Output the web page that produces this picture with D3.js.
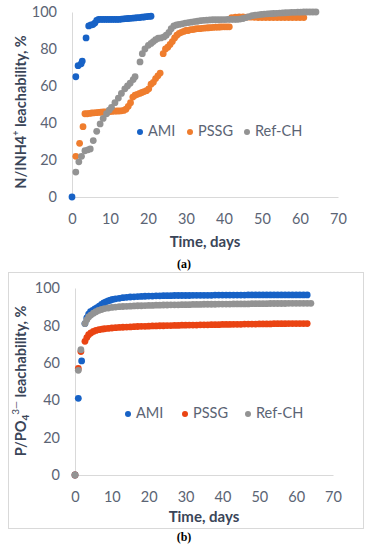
<!DOCTYPE html>
<html>
<head>
<meta charset="utf-8">
<script src="https://cdn.jsdelivr.net/npm/d3@7"></script>
<style>
  body { margin: 0; background: #fff; }
  svg { display: block; font-family: Lato, "Open Sans", sans-serif; }
</style>
</head>
<body>
<div id="chart"></div>
<script>
/* Leachability over time: (a) N/NH4+ and (b) P/PO4 3- */

const seriesNames = ['AMI', 'PSSG', 'Ref-CH'];
const xTicks = [0, 10, 20, 30, 40, 50, 60, 70];
const yTicks = [0, 20, 40, 60, 80, 100];

// panel (a) — [day, %]
const amiA = [[0,0],[1,65],[1.6,71],[2.4,72],[2.7,73.5],[3.7,86],[4.4,92.5],[5,93],[5.5,93.2],[6,94],[6.5,95.5],[7,96],[7.6,96],[8.2,96],[8.8,96],[9.4,96],[10,96],[10.6,96],[11.2,96],[11.8,96],[12.4,96],[13,96.2],[13.6,96.3],[14.2,96.4],[14.8,96.5],[15.4,96.6],[16,96.7],[16.6,96.8],[17.2,97],[17.8,97],[18.4,97.2],[19,97.3],[19.6,97.5],[20.2,97.6],[20.8,97.7]];
const pssgA = [[1,22],[2,29],[2.9,38],[3.4,45],[4,45],[4.6,45.2],[5.2,45.4],[5.8,45.5],[6.4,45.6],[7,45.7],[7.6,45.8],[8.2,46],[8.8,46],[9.4,46],[10,46.2],[10.6,46.3],[11.2,46.4],[11.8,46.5],[12.4,46.5],[13,46.6],[13.6,46.8],[14.2,47.5],[14.8,49],[15.4,51],[16,54],[16.6,55],[17.2,55.5],[17.8,56],[18.4,56.5],[19,57],[19.6,57.5],[20.2,58.5],[20.8,61],[21.4,62],[22,64],[22.6,65.5],[23.2,67],[24,77.5],[24.6,80],[25.2,81],[25.8,82.5],[26.4,84],[27,86],[27.6,87.5],[28.2,88.5],[28.8,89],[29.4,89.5],[30,90],[30.6,90],[31.2,90.5],[31.8,90.5],[32.4,90.8],[33,91],[33.6,91],[34.2,91.2],[34.8,91.3],[35.4,91.4],[36,91.5],[36.6,91.6],[37.2,91.7],[37.8,91.8],[38.4,91.8],[39,91.9],[39.6,92],[40.2,92],[40.8,92],[41.4,92],[42,97],[43,97.2],[44,97.3],[45,97.3],[46,97.2],[47,97.2],[48,97.1],[49,97],[50,97],[51,97],[52,97],[53,97],[54,97],[55,97],[56,97],[57,97],[58,97],[59,97],[60,97],[61,97]];
const refA = [[1,13.5],[1.8,19],[2.5,22],[3.4,25],[4.2,25.5],[4.8,26],[5.6,30.5],[6.5,35.5],[7.4,39.5],[8.2,42.5],[9.1,45],[9.8,47],[10.4,48.5],[11.3,51],[12.2,53.5],[13,56],[13.9,58.5],[14.6,60],[15.3,61.5],[16.1,63.5],[16.6,65],[17.9,73],[18.5,77.5],[19.2,80],[20.1,82],[20.8,83],[21.4,84],[22,85],[22.7,85.8],[23.4,86],[24.2,86.5],[24.8,87.5],[25.5,89],[26.1,91],[26.8,92.5],[27.5,93],[28.2,93.3],[29,93.6],[29.8,94],[30.6,94.3],[31.4,94.5],[32.2,94.8],[33,95],[33.8,95.3],[34.6,95.5],[35.4,95.6],[36.2,95.7],[37,95.8],[37.8,95.8],[38.6,95.8],[39.4,95.9],[40.2,95.9],[41,96],[41.8,96],[42.6,96],[43.4,96],[44.2,96.2],[45,96.5],[45.8,97],[46.6,97.5],[47.4,98],[48.2,98.3],[49,98.5],[49.8,98.7],[50.6,98.9],[51.4,99],[52.2,99.1],[53,99.2],[53.8,99.3],[54.6,99.4],[55.4,99.5],[56.2,99.6],[57,99.7],[57.8,99.8],[58.6,99.8],[59.4,99.9],[60.2,99.9],[61,100],[61.8,100],[62.6,100],[63.4,100],[64.2,100]];

// panel (b) — [day, %]
const amiB = [[0,0],[0.9,41],[1.8,61],[2.7,81],[3.2,84],[3.7,86],[4.2,87.3],[4.8,88],[5.4,88.8],[6,89.5],[6.6,90.3],[7.2,91.2],[7.8,92],[8.4,92.6],[9,93.1],[9.6,93.5],[10.2,93.9],[11,94.2],[12,94.5],[13,94.8],[14,95],[15,95.2],[16,95.3],[17,95.4],[18,95.5],[19,95.6],[20,95.7],[21,95.7],[22,95.8],[23,95.8],[24,95.9],[25,95.9],[26,95.9],[27,96],[28,96],[29,96],[30,96],[31,96],[32,96.1],[33,96.1],[34,96.1],[35,96.1],[36,96.1],[37,96.1],[38,96.2],[39,96.2],[40,96.2],[41,96.2],[42,96.2],[43,96.2],[44,96.2],[45,96.2],[46,96.2],[47,96.3],[48,96.3],[49,96.3],[50,96.3],[51,96.3],[52,96.3],[53,96.3],[54,96.3],[55,96.3],[56,96.3],[57,96.3],[58,96.3],[59,96.3],[60,96.3],[61,96.3],[62,96.3],[63,96.3]];
const pssgB = [[0,0],[0.9,57],[1.6,66],[2.7,71.5],[3.2,73.5],[3.7,75],[4.3,76],[5,76.8],[5.7,77.3],[6.5,77.7],[7.3,78],[8,78.2],[9,78.4],[10,78.6],[11,78.8],[12,78.9],[13,79],[14,79.1],[15,79.2],[16,79.3],[17,79.4],[18,79.5],[19,79.5],[20,79.6],[21,79.7],[22,79.7],[23,79.8],[24,79.8],[25,79.9],[26,79.9],[27,80],[28,80],[29,80.1],[30,80.1],[31,80.2],[32,80.2],[33,80.2],[34,80.3],[35,80.3],[36,80.3],[37,80.4],[38,80.4],[39,80.4],[40,80.5],[41,80.5],[42,80.5],[43,80.6],[44,80.6],[45,80.6],[46,80.7],[47,80.7],[48,80.7],[49,80.7],[50,80.8],[51,80.8],[52,80.8],[53,80.8],[54,80.9],[55,80.9],[56,80.9],[57,80.9],[58,81],[59,81],[60,81],[61,81],[62,81],[63,81]];
const refB = [[0,0],[0.9,56],[1.6,67],[2.7,81],[3.2,83],[3.7,84.5],[4.3,85.5],[5,86.5],[5.7,87.3],[6.4,88],[7.2,88.5],[8,89],[9,89.3],[10,89.6],[11,89.8],[12,90],[13,90.1],[14,90.2],[15,90.3],[16,90.4],[17,90.5],[18,90.5],[19,90.6],[20,90.7],[21,90.7],[22,90.8],[23,90.8],[24,90.9],[25,90.9],[26,91],[27,91],[28,91],[29,91.1],[30,91.1],[31,91.1],[32,91.2],[33,91.2],[34,91.2],[35,91.3],[36,91.3],[37,91.3],[38,91.3],[39,91.4],[40,91.4],[41,91.4],[42,91.4],[43,91.5],[44,91.5],[45,91.5],[46,91.5],[47,91.5],[48,91.6],[49,91.6],[50,91.6],[51,91.6],[52,91.6],[53,91.7],[54,91.7],[55,91.7],[56,91.7],[57,91.7],[58,91.8],[59,91.8],[60,91.8],[61,91.8],[62,91.8],[63,91.8],[64,91.8]];

const colorsA = ['#1762c6', '#ef7d2e', '#939393'];
const colorsB = ['#1762c6', '#ea4413', '#939393'];

const W = 368, H = 550;
const tickColor = '#5b6474';
const titleColor = '#3a4558';
const axisColor = '#d9d9d9';

const svg = d3.select('#chart').append('svg')
    .attr('width', W)
    .attr('height', H);

function drawPanel(opts) {
    const { x0, x1, y0, y1, series, colors, legendY, legendX, yTitleY, titleY, tickY, yTitle } = opts;

    const x = d3.scaleLinear().domain([0, 70]).range([x0, x1]);
    const y = d3.scaleLinear().domain([0, 100]).range([y0, y1]);

    const g = svg.append('g');

    // Y axis
    const ya = g.append('g')
        .attr('transform', `translate(${x0},0)`)
        .call(d3.axisLeft(y).tickValues(yTicks).tickSize(0).tickPadding(15).tickSizeOuter(0));
    ya.select('.domain').attr('stroke', axisColor);
    ya.selectAll('text')
        .attr('fill', tickColor)
        .style('font-size', '14.5px')
        .style('font-family', 'Lato, sans-serif');

    // X axis
    const xa = g.append('g')
        .attr('transform', `translate(0,${y0})`)
        .call(d3.axisBottom(x).tickValues(xTicks).tickSize(0).tickPadding(tickY - y0 - 5).tickSizeOuter(0));
    xa.select('.domain').attr('stroke', axisColor);
    xa.selectAll('text')
        .attr('fill', tickColor)
        .style('font-size', '14.5px')
        .style('font-family', 'Lato, sans-serif');

    // Axis titles
    g.append('text')
        .attr('x', (x0 + x1) / 2)
        .attr('y', titleY)
        .attr('text-anchor', 'middle')
        .attr('dominant-baseline', 'middle')
        .attr('fill', titleColor)
        .style('font-size', '15px')
        .style('font-weight', 'bold')
        .text('Time, days');

    const yt = g.append('text')
        .attr('transform', `translate(22,${yTitleY}) rotate(-90)`)
        .attr('text-anchor', 'middle')
        .attr('dominant-baseline', 'middle')
        .attr('fill', titleColor)
        .style('font-size', '14.5px')
        .style('font-weight', 'bold');
    yTitle(yt);

    // Points
    series.forEach((s, i) => {
        g.append('g')
            .selectAll('circle')
            .data(s)
            .join('circle')
            .attr('cx', d => x(d[0]))
            .attr('cy', d => y(d[1]))
            .attr('r', 3.4)
            .attr('fill', colors[i]);
    });

    // Legend
    seriesNames.forEach((name, i) => {
        g.append('circle')
            .attr('cx', legendX[i])
            .attr('cy', legendY)
            .attr('r', 3)
            .attr('fill', colors[i]);
        g.append('text')
            .attr('x', legendX[i] + 8)
            .attr('y', legendY)
            .attr('dominant-baseline', 'middle')
            .attr('fill', tickColor)
            .style('font-size', '14.5px')
            .text(name);
    });
}

// (a)
drawPanel({
    x0: 72, x1: 338, y0: 197, y1: 12,
    series: [amiA, pssgA, refA],
    colors: colorsA,
    legendY: 132, legendX: [140, 190, 247],
    yTitleY: 112, titleY: 243, tickY: 219,
    yTitle: t => {
        t.append('tspan').text('N/INH4');
        t.append('tspan').attr('dy', -5).style('font-size', '9px').text('+');
        t.append('tspan').attr('dy', 5).text(' leachability, %');
    }
});

svg.append('text')
    .attr('x', 184).attr('y', 265)
    .attr('text-anchor', 'middle')
    .attr('dominant-baseline', 'middle')
    .style('font-family', '"Liberation Serif", serif')
    .style('font-size', '12px')
    .style('font-weight', 'bold')
    .text('(a)');

// (b) box
svg.append('rect')
    .attr('x', 8.5).attr('y', 272.5)
    .attr('width', 355).attr('height', 256)
    .attr('fill', 'none')
    .attr('stroke', '#d9d9d9');

drawPanel({
    x0: 75, x1: 333, y0: 475, y1: 288,
    series: [amiB, pssgB, refB],
    colors: colorsB,
    legendY: 414, legendX: [128, 185, 248],
    yTitleY: 381, titleY: 518, tickY: 497,
    yTitle: t => {
        t.append('tspan').text('P/PO');
        t.append('tspan').attr('dy', 4).style('font-size', '10px').text('4');
        t.append('tspan').attr('dy', -10).style('font-size', '10px').style('font-weight', 'normal').text('3\u2014');
        t.append('tspan').attr('dy', 6).text(' leachability, %');
    }
});

svg.append('text')
    .attr('x', 184).attr('y', 538)
    .attr('text-anchor', 'middle')
    .attr('dominant-baseline', 'middle')
    .style('font-family', '"Liberation Serif", serif')
    .style('font-size', '12px')
    .style('font-weight', 'bold')
    .text('(b)');
</script>
</body>
</html>
